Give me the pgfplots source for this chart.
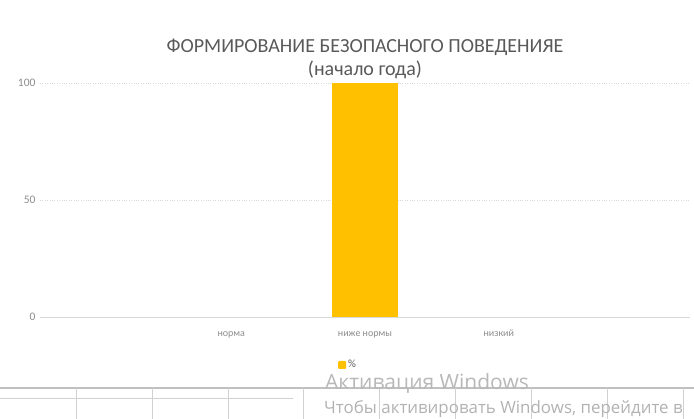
\documentclass[border=0pt]{standalone}
\usepackage{pgfplots}
\pgfplotsset{compat=1.18}
\usepackage{fontspec}
\setmainfont{Carlito}
\newfontfamily\wmfont{Open Sans}
\definecolor{barc}{HTML}{FFC000}
\definecolor{txt}{HTML}{595959}
\definecolor{tick}{HTML}{8C8C8C}
\definecolor{gridc}{HTML}{D9D9D9}
\definecolor{sheet}{HTML}{D0D0D0}
\definecolor{wm}{HTML}{B8B8B8}
\begin{document}
\begin{tikzpicture}[x=1pt,y=1pt]
\path[use as bounding box] (0,0) rectangle (694,419);
% spreadsheet background below the chart
\draw[sheet!80!gray, line width=1.2pt] (0,419-388) -- (694,419-388);
\draw[sheet, line width=0.8pt] (0,419-398) -- (293,419-398);
\foreach \xx in {76,152,228,303,379,455,531,607,683}{
  \draw[sheet, line width=0.8pt] (\xx,419-388) -- (\xx,0);
}
\begin{axis}[
  at={(40pt,102pt)}, anchor=south west,
  scale only axis, width=650pt, height=234pt,
  xmin=-1.43, xmax=3.43, ymin=0, ymax=100,
  axis line style={draw=none},
  xtick={0,1,2}, xticklabels={норма,ниже нормы,низкий},
  ytick={50,100},
  extra y ticks={0},
  extra y tick style={grid style={solid, gridc, line width=0.8pt}},
  ymajorgrids,
  grid style={dotted, gridc, line width=0.9pt},
  major tick length=0pt,
  tick label style={font=\fontsize{10}{12}\selectfont, text=tick},
  yticklabel style={font=\fontsize{11.5}{12}\selectfont, xshift=-1pt},
  /pgf/number format/assume math mode=true,
  xticklabel style={yshift=-9pt, text height=7pt, text depth=2pt},
  ybar, bar width=66pt,
  title style={align=center, font=\fontsize{20}{23}\selectfont, text=txt, yshift=-5pt},
  title={ФОРМИРОВАНИЕ БЕЗОПАСНОГО ПОВЕДЕНИЯЕ\\(начало года)},
  legend style={at={(0.474,-0.205)}, anchor=center, draw=none, fill=none,
    font=\fontsize{11}{12}\selectfont, text=txt},
  legend image code/.code={\fill[barc, rounded corners=1pt] (0pt,-4pt) rectangle (8pt,4pt);},
]
\addplot[fill=barc, draw=none] coordinates {(1,100)};
\addlegendentry{\%}
\end{axis}
% watermark
\node[anchor=base west, text=wm, font=\wmfont\fontsize{21}{24}\selectfont, inner sep=0pt] at (325,419-390) {Активация Windows};
\node[anchor=base west, text=wm!90!gray, font=\wmfont\fontsize{16.9}{18}\selectfont, inner sep=0pt] at (324,419-414) {Чтобы активировать Windows, перейдите в};
\end{tikzpicture}
\end{document}
